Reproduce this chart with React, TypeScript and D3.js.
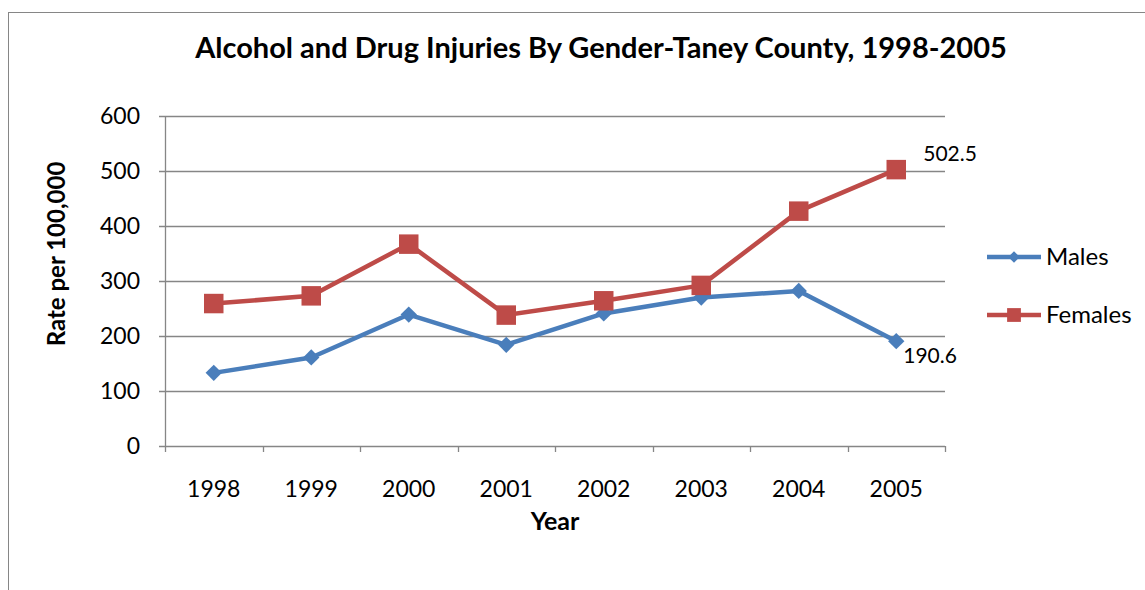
import React, { useEffect, useRef } from 'react';
import * as d3 from 'd3';

const years = ['1998', '1999', '2000', '2001', '2002', '2003', '2004', '2005'];
const males = [133, 161, 239, 184, 241, 270, 282, 190.6];
const females = [259, 273, 367, 238, 264, 292, 427, 502.5];
const yTicks = [0, 100, 200, 300, 400, 500, 600];

const WIDTH = 1145;
const HEIGHT = 590;
const FONT = 'Lato, "Open Sans", sans-serif';

const App = () => {
  const svgRef = useRef<SVGSVGElement>(null);

  useEffect(() => {
    const svg = d3.select(svgRef.current);
    svg.selectAll('*').remove();

    const margin = { top: 116, left: 165, right: 200, bottom: 144 };
    const innerWidth = WIDTH - margin.left - margin.right;
    const innerHeight = HEIGHT - margin.top - margin.bottom;

    // outer chart border
    svg.append('rect')
      .attr('x', 8.5)
      .attr('y', 12.5)
      .attr('width', 1200)
      .attr('height', 700)
      .attr('fill', 'white')
      .attr('stroke', '#868686')
      .attr('stroke-width', 1);

    const g = svg.append('g')
      .attr('transform', `translate(${margin.left},${margin.top})`);

    const xScale = d3.scaleBand()
      .domain(years)
      .range([0, innerWidth]);

    const yScale = d3.scaleLinear()
      .domain([0, 600])
      .range([innerHeight, 0]);

    // gridlines
    g.selectAll('.grid')
      .data(yTicks)
      .enter()
      .append('line')
      .attr('x1', -6)
      .attr('x2', innerWidth)
      .attr('y1', d => Math.round(yScale(d)) + 0.5)
      .attr('y2', d => Math.round(yScale(d)) + 0.5)
      .attr('stroke', '#868686')
      .attr('stroke-width', 1.3);

    // y axis line
    g.append('line')
      .attr('x1', 0.5).attr('x2', 0.5)
      .attr('y1', 0).attr('y2', innerHeight)
      .attr('stroke', '#868686')
      .attr('stroke-width', 1.3);

    // x tick marks
    const bounds = years.map(y => xScale(y) as number).concat([innerWidth]);
    g.selectAll('.xtick')
      .data(bounds)
      .enter()
      .append('line')
      .attr('x1', d => Math.round(d) + 0.5)
      .attr('x2', d => Math.round(d) + 0.5)
      .attr('y1', innerHeight)
      .attr('y2', innerHeight + 6)
      .attr('stroke', '#868686')
      .attr('stroke-width', 1.3);

    // y tick labels
    g.selectAll('.ylab')
      .data(yTicks)
      .enter()
      .append('text')
      .attr('x', -25)
      .attr('y', d => yScale(d))
      .attr('dy', '0.35em')
      .attr('text-anchor', 'end')
      .style('font-family', FONT)
      .style('font-size', '23px')
      .text(d => d);

    // x tick labels
    g.selectAll('.xlab')
      .data(years)
      .enter()
      .append('text')
      .attr('x', d => (xScale(d) as number) + xScale.bandwidth() / 2)
      .attr('y', innerHeight + 51)
      .attr('text-anchor', 'middle')
      .style('font-family', FONT)
      .style('font-size', '23px')
      .text(d => d);

    const cx = (i: number) => (xScale(years[i]) as number) + xScale.bandwidth() / 2;

    const line = d3.line<number>()
      .x((d, i) => cx(i))
      .y(d => yScale(d));

    const series = [
      { name: 'Males', values: males, color: '#4A7EBB', symbol: d3.symbolDiamond2, size: 170 },
      { name: 'Females', values: females, color: '#BE4B48', symbol: d3.symbolSquare, size: 380 },
    ];

    series.forEach(s => {
      g.append('path')
        .datum(s.values)
        .attr('fill', 'none')
        .attr('stroke', s.color)
        .attr('stroke-width', 4.5)
        .attr('stroke-linejoin', 'round')
        .attr('d', line);

      g.selectAll(`.pt-${s.name}`)
        .data(s.values)
        .enter()
        .append('path')
        .attr('d', d3.symbol().type(s.symbol).size(s.size)())
        .attr('transform', (d, i) => `translate(${cx(i)},${yScale(d)})`)
        .attr('fill', s.color);
    });

    // data labels for last points
    const last = years.length - 1;
    g.append('text')
      .attr('x', cx(last) + 27)
      .attr('y', yScale(females[last]) - 9)
      .style('font-family', FONT)
      .style('font-size', '21px')
      .text(String(females[last]));

    g.append('text')
      .attr('x', cx(last) + 7)
      .attr('y', yScale(males[last]) + 22)
      .style('font-family', FONT)
      .style('font-size', '21px')
      .text(String(males[last]));

    // title
    svg.append('text')
      .attr('x', 601)
      .attr('y', 58)
      .attr('text-anchor', 'middle')
      .style('font-family', FONT)
      .style('font-size', '29px')
      .style('font-weight', 'bold')
      .text('Alcohol and Drug Injuries By Gender-Taney County, 1998-2005');

    // axis titles
    svg.append('text')
      .attr('x', margin.left + innerWidth / 2)
      .attr('y', 530)
      .attr('text-anchor', 'middle')
      .style('font-family', FONT)
      .style('font-size', '25px')
      .style('font-weight', 'bold')
      .text('Year');

    svg.append('text')
      .attr('transform', 'translate(65, 254) rotate(-90)')
      .attr('text-anchor', 'middle')
      .style('font-family', FONT)
      .style('font-size', '24px')
      .style('font-weight', 'bold')
      .text('Rate per 100,000');

    // legend
    const legend = svg.append('g').attr('transform', 'translate(987, 257)');
    series.forEach((s, i) => {
      const item = legend.append('g').attr('transform', `translate(0, ${i * 58})`);
      item.append('line')
        .attr('x1', 0).attr('x2', 54)
        .attr('y1', 0).attr('y2', 0)
        .attr('stroke', s.color)
        .attr('stroke-width', 4.5);
      item.append('path')
        .attr('d', d3.symbol().type(s.symbol).size(s.size * 0.5)())
        .attr('transform', 'translate(27,0)')
        .attr('fill', s.color);
      item.append('text')
        .attr('x', 59)
        .attr('y', 0)
        .attr('dy', '0.35em')
        .style('font-family', FONT)
        .style('font-size', '24px')
        .text(s.name);
    });
  }, []);

  return (
    <svg
      ref={svgRef}
      width={WIDTH}
      height={HEIGHT}
      style={{ position: 'absolute', left: 0, top: 0, background: 'white' }}
    />
  );
};

export default App;
